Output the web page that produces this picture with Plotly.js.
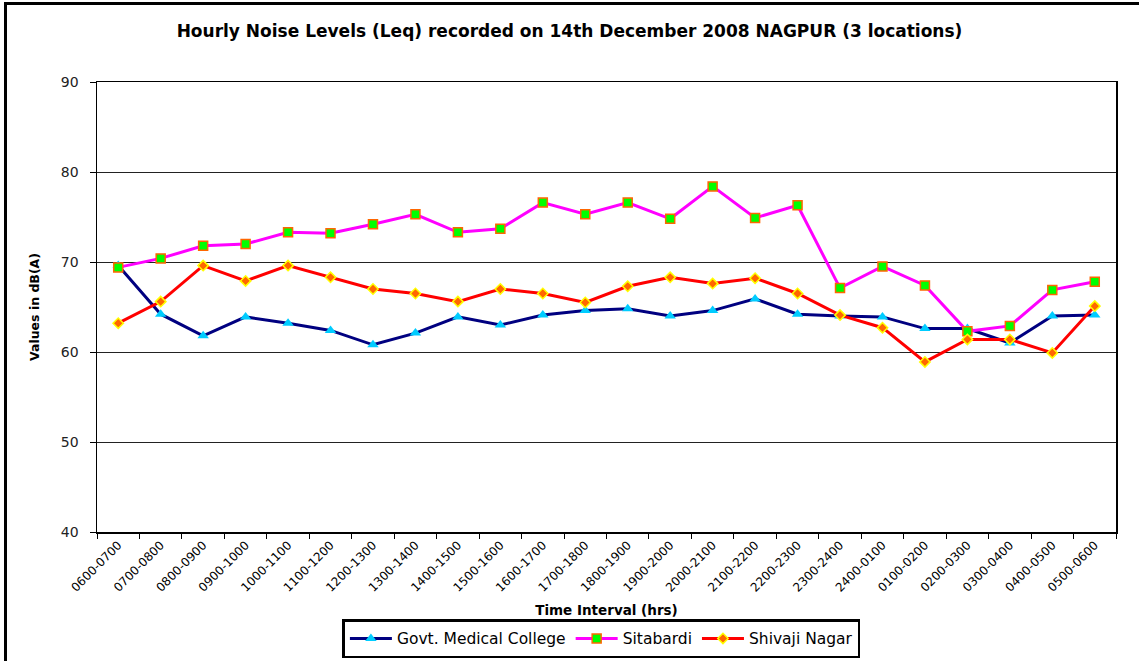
<!DOCTYPE html>
<html>
<head>
<meta charset="utf-8">
<script src="https://cdn.plot.ly/plotly-3.0.1.min.js"></script>
<style>
html,body{margin:0;padding:0;background:#fff;overflow:hidden;}
#chart{width:1139px;height:661px;}
#frame{position:absolute;left:4px;top:2px;width:1150px;height:670px;border:3px solid #000;box-sizing:border-box;pointer-events:none;}
</style>
</head>
<body>
<div id="chart"></div>
<div id="frame"></div>
<script>
const categories = ["0600-0700","0700-0800","0800-0900","0900-1000","1000-1100","1100-1200","1200-1300","1300-1400","1400-1500","1500-1600","1600-1700","1700-1800","1800-1900","1900-2000","2000-2100","2100-2200","2200-2300","2300-2400","2400-0100","0100-0200","0200-0300","0300-0400","0400-0500","0500-0600"];
const govtMedical = [69.6,64.2,61.8,63.9,63.2,62.4,60.8,62.1,63.9,63.0,64.1,64.6,64.8,64.0,64.6,65.9,64.2,64.0,63.9,62.6,62.6,61.0,64.0,64.1];
const sitabardi = [69.4,70.4,71.8,72.0,73.3,73.2,74.2,75.3,73.3,73.7,76.6,75.3,76.6,74.8,78.4,74.9,76.3,67.1,69.5,67.4,62.3,62.9,66.9,67.8];
const shivajiNagar = [63.2,65.6,69.6,67.9,69.6,68.3,67.0,66.5,65.6,67.0,66.5,65.5,67.3,68.3,67.6,68.2,66.5,64.1,62.7,58.9,61.4,61.4,59.9,65.1];
const yTicks = [40,50,60,70,80,90];

const font = "DejaVu Sans, sans-serif";
const traces = [
  {x:categories, y:govtMedical, name:"Govt. Medical College", type:"scatter", mode:"lines+markers",
   line:{color:"#000080", width:3},
   marker:{symbol:"triangle-up", size:10, color:"#00CCFF", line:{color:"#00CCFF", width:0}}},
  {x:categories, y:sitabardi, name:"Sitabardi", type:"scatter", mode:"lines+markers",
   line:{color:"#FF00FF", width:3},
   marker:{symbol:"square", size:9, color:"#00FF00", line:{color:"#FF6600", width:1.5}}},
  {x:categories, y:shivajiNagar, name:"Shivaji Nagar", type:"scatter", mode:"lines+markers",
   line:{color:"#FF0000", width:3},
   marker:{symbol:"diamond", size:8, color:"#FF6600", line:{color:"#FFFF00", width:1.5}}}
];

const layout = {
  width:1139, height:661,
  margin:{l:97, r:23, t:82, b:129},
  paper_bgcolor:"#fff", plot_bgcolor:"#fff",
  showlegend:true,
  title:{text:"<b>Hourly Noise Levels (Leq) recorded on 14th December 2008 NAGPUR (3 locations)</b>",
         font:{family:font, size:17, color:"#000"}, x:0.5, xanchor:"center", y:0.953, yanchor:"middle"},
  xaxis:{type:"category", automargin:false, tickangle:-45, tickson:"boundaries", ticks:"outside", ticklen:5, tickcolor:"#000",
         showline:true, linecolor:"#000", linewidth:1.5, mirror:true, showgrid:false,
         tickfont:{family:font, size:12, color:"#000"},
         title:{text:"<b>Time Interval (hrs)</b>", font:{family:font, size:13.5, color:"#000"}, standoff:12},
         range:[-0.5, 23.5]},
  yaxis:{range:[40,90], automargin:false, tickvals:yTicks, ticks:"outside", ticklen:6, tickcolor:"#000",
         ticklabelstandoff:8,
         showline:true, linecolor:"#000", linewidth:1.5, mirror:true,
         showgrid:true, gridcolor:"#222", gridwidth:1, zeroline:false,
         tickfont:{family:font, size:14, color:"#222"},
         title:{text:"<b>Values in dB(A)</b>", font:{family:font, size:12.5, color:"#000"}, standoff:18}},
  legend:{orientation:"h", xref:"paper", x:0.495, xanchor:"center", yref:"container", y:0.004, yanchor:"bottom",
          bordercolor:"#000", borderwidth:2.5, bgcolor:"#fff", itemwidth:42,
          font:{family:font, size:15.5, color:"#000"}}
};

Plotly.newPlot("chart", traces, layout, {displayModeBar:false, staticPlot:true});
</script>
</body>
</html>
